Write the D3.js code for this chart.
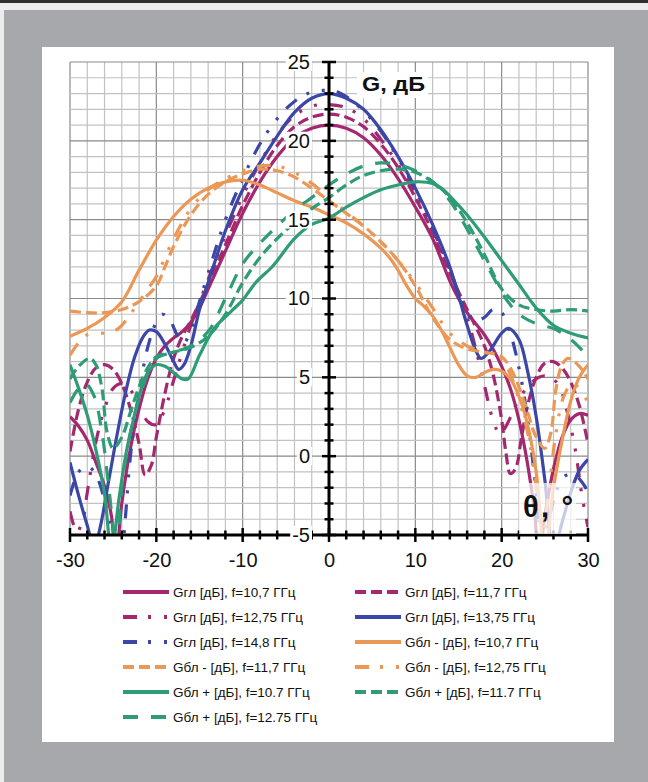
<!DOCTYPE html>
<html><head><meta charset="utf-8">
<script src="https://cdn.jsdelivr.net/npm/d3@7"></script>
<style>body{margin:0;background:#fff}svg{display:block;font-family:"Liberation Sans",Arial,sans-serif}</style>
</head><body><svg id="c" width="648" height="782"></svg>
<script>
// ---- data ----
const xTicks = [-30, -20, -10, 0, 10, 20, 30];
const yTicks = [-5, 0, 5, 10, 15, 20, 25];
const seriesNames = [
  "Gгл [дБ], f=10,7 ГГц", "Gгл [дБ], f=11,7 ГГц",
  "Gгл [дБ], f=12,75 ГГц", "Gгл [дБ], f=13,75 ГГц",
  "Gгл [дБ], f=14,8 ГГц", "Gбл - [дБ], f=10,7 ГГц",
  "Gбл - [дБ], f=11,7 ГГц", "Gбл - [дБ], f=12,75 ГГц",
  "Gбл + [дБ], f=10.7 ГГц", "Gбл + [дБ], f=11.7 ГГц",
  "Gбл + [дБ], f=12.75 ГГц"
];
const gl107 = [[-30,2.5],[-29,1.9],[-28,1.0],[-27,-0.4],[-26,-1.9],[-25.2,-3.8],[-24.7,-6.5],[-24,-3.0],[-23,0.5],[-22,3.0],[-21,4.9],[-20,6.2],[-19,7.0],[-18,7.5],[-17,7.9],[-16,8.5],[-15,9.4],[-14,10.6],[-12,13.0],[-10,15.4],[-8,17.4],[-6,19.0],[-4,20.2],[-2,20.8],[0,21.0],[2,20.8],[4,20.2],[6,19.1],[8,17.6],[10,15.8],[12,13.8],[14,11.1],[15,10.0],[16,9.1],[18,7.7],[19,6.8],[20,5.7],[21,4.3],[22,2.3],[23,-0.5],[23.8,-3.5],[24.3,-6.5],[25,-3.8],[26,-0.8],[27,1.2],[28,2.3],[29,2.7],[30,2.6]];
const gl117 = [[-30,0.3],[-29,3.0],[-28,4.7],[-27,5.6],[-26,5.8],[-25,5.5],[-24,4.6],[-23,3.0],[-22,0.8],[-21.3,-1.2],[-20.6,-0.6],[-20,1.2],[-19,4.0],[-18,6.2],[-17,7.6],[-16,8.6],[-14,10.9],[-12,13.4],[-10,15.9],[-8,18.0],[-6,19.7],[-4,20.9],[-2,21.5],[0,21.7],[2,21.5],[4,20.9],[6,19.8],[8,18.3],[10,16.4],[12,14.2],[14,11.6],[16,9.3],[17,8.2],[18,7.0],[19,5.2],[20,2.3],[20.5,0.2],[21,-1.1],[21.6,-0.8],[22.3,1.2],[23,3.2],[24,5.0],[25,5.9],[26,6.0],[27,5.6],[28,4.7],[29,3.2],[30,0.8]];
const gl1275 = [[-30,-3.5],[-29.2,-4.8],[-28.5,-4.0],[-28,-2.3],[-27,0.9],[-26,3.0],[-25,4.3],[-24,4.6],[-23,4.2],[-22,3.2],[-21,2.2],[-20,2.0],[-19,3.0],[-18,4.8],[-17,6.6],[-16,8.3],[-14,11.2],[-12,14.0],[-10,16.5],[-8,18.6],[-6,20.4],[-4,21.6],[-2,22.2],[0,22.3],[2,22.1],[4,21.4],[6,20.1],[8,18.5],[10,16.6],[12,14.4],[14,11.8],[16,8.8],[17,6.8],[18,4.5],[19,2.3],[19.8,1.4],[20.6,2.0],[22,3.6],[23.5,4.7],[25,5.1],[26.5,4.6],[27.5,3.0],[28.5,0.5],[29.3,-2.5],[30,-4.5]];
const gl1375 = [[-30,-0.4],[-29,-2.5],[-28,-4.4],[-27.2,-5.8],[-26.5,-4.5],[-25.5,-1.5],[-24.5,1.5],[-23.5,4.2],[-22.5,6.3],[-21.5,7.6],[-20.8,8.0],[-20,7.9],[-19,7.1],[-18,6.0],[-17.4,5.5],[-16.8,5.8],[-16,7.0],[-15,9.3],[-14,11.0],[-13,12.7],[-12,14.3],[-10,16.9],[-8,18.6],[-6,20.3],[-4,21.8],[-2,22.7],[0,23.0],[2,22.7],[4,22.0],[6,20.7],[8,19.0],[10,17.0],[12,14.7],[14,12.0],[15,10.2],[16,8.3],[17,6.7],[17.6,6.2],[18.5,6.6],[20,7.8],[20.8,8.1],[22,7.4],[23,5.4],[24,2.5],[25,-1.5],[26,-6.0],[27,-4.2],[28,-2.3],[29,-0.9],[30,-0.2]];
const gl148 = [[-30,-2.5],[-29,-1.0],[-28,-0.6],[-27,-1.2],[-26,-2.8],[-25,-5.5],[-24.3,-8],[-23.6,-4],[-23,0],[-22,4.0],[-21,6.9],[-20,8.5],[-19.3,9.0],[-18.5,8.7],[-17.5,7.6],[-16.8,7.2],[-16,8.0],[-15,9.8],[-14,11.6],[-12,15.0],[-10,17.6],[-8,19.8],[-6,21.4],[-4,22.5],[-2,23.1],[-0.5,23.2],[1,23.1],[2,22.8],[4,21.9],[6,20.6],[8,18.9],[10,16.9],[12,14.5],[14,11.8],[15,10.3],[16,9.0],[17,8.6],[18,8.8],[19,9.3],[20,9.1],[21,7.8],[22,5.6],[23,2.4],[24,-2.5],[24.6,-7],[25.3,-4.5],[26.5,-2.0],[27.5,-1.2],[28.5,-1.2],[29.5,-1.8],[30,-2.3]];
const gbm107 = [[-30,7.6],[-28,8.1],[-26,8.8],[-24,9.8],[-22,11.8],[-20,13.7],[-18,15.2],[-16,16.3],[-14,17.0],[-12,17.4],[-10,17.5],[-8,17.2],[-6,16.7],[-4,16.2],[-2,15.8],[0,15.3],[2,14.8],[4,14.1],[6,13.2],[7,12.6],[8,11.8],[9,10.8],[10,10.0],[11,9.5],[12,8.9],[13,8.0],[14,6.9],[15,5.8],[16,5.1],[17,5.0],[18,5.3],[19,5.5],[20,5.4],[21,4.9],[22,3.8],[23,2.0],[24,-1.0],[25,-6.0],[26,-2.0],[27,1.0],[28,3.5],[29,5.0],[30,5.8]];
const gbm117 = [[-30,9.2],[-28,9.1],[-26,9.1],[-24,9.3],[-22,9.8],[-20,10.8],[-19,12.0],[-18,13.3],[-16,15.3],[-14,16.6],[-12,17.4],[-10,17.9],[-8,18.2],[-6,18.1],[-4,17.7],[-2,17.0],[0,16.2],[2,15.4],[4,14.6],[6,13.6],[8,12.4],[10,10.8],[12,8.8],[14,7.4],[16,6.8],[18,6.6],[20,6.3],[21,5.6],[22,4.4],[23,2.8],[24,1.2],[25,0.5],[25.7,1.5],[26.3,4.3],[27,5.8],[27.7,6.2],[29,5.7],[30,4.9]];
const gbm1275 = [[-30,6.4],[-29,7.2],[-28,7.7],[-27,7.8],[-26,7.8],[-25,7.9],[-24,8.3],[-23,9.0],[-22,9.8],[-21,10.6],[-20,11.4],[-19,12.6],[-18,13.8],[-16,15.7],[-14,16.9],[-12,17.6],[-10,18.1],[-8,18.4],[-6,18.4],[-4,18.0],[-2,17.3],[0,16.4],[2,15.5],[4,14.6],[6,13.6],[8,12.4],[10,11.0],[12,9.4],[14,7.8],[16,7.0],[18,6.6],[20,6.2],[21,5.2],[22,3.6],[23,1.5],[24,-2.0],[24.6,-6],[25.5,-2],[26.3,1.5],[27.2,3.8],[28.2,4.6],[29,4.3],[30,3.4]];
const gbp107 = [[-30,5.8],[-29,4.3],[-28,2.6],[-27,0.4],[-26,-2.4],[-25.2,-6.0],[-24.3,-2.6],[-23.5,0.2],[-22.7,2.2],[-22,3.8],[-21,5.3],[-20,5.8],[-19,5.7],[-18,5.3],[-17,4.9],[-16.3,4.9],[-15,6.4],[-13.3,8.1],[-11.3,9.2],[-10,9.9],[-8.5,11.0],[-6.6,12.0],[-6,12.4],[-4,13.8],[-2,14.7],[0,15.1],[2,15.8],[4,16.4],[6,16.9],[8,17.2],[10,17.4],[12,17.3],[13,17.0],[14,16.5],[16,15.3],[18,13.9],[20,12.4],[22,10.9],[24,9.4],[26,8.3],[28,7.8],[30,7.5]];
const gbp117 = [[-30,4.9],[-29,5.7],[-27.7,6.2],[-27,5.8],[-26.3,4.3],[-25.7,1.5],[-25,0.5],[-24,1.2],[-23,2.8],[-22,4.4],[-21,5.6],[-20,6.3],[-18,6.6],[-16,6.9],[-14,7.6],[-12,9.0],[-10,11.0],[-8,12.6],[-6,13.8],[-4,14.8],[-2,15.7],[0,16.4],[2,17.2],[4,17.8],[6,18.1],[8,18.2],[10,18.0],[12,17.4],[14,16.4],[16,14.8],[18,12.8],[19,11.6],[20,10.6],[22,9.6],[24,9.3],[26,9.2],[28,9.3],[30,9.2]];
const gbp1275 = [[-30,3.4],[-29,4.3],[-28.2,4.6],[-27.2,3.8],[-26.3,1.5],[-25.5,-2],[-24.6,-6],[-24,-2.0],[-23,1.5],[-22,3.6],[-21,5.2],[-20,6.2],[-18,6.6],[-16,7.0],[-14,7.9],[-12,10.0],[-10,12.2],[-8,13.5],[-6,14.6],[-4,15.6],[-2,16.4],[0,17.2],[2,17.9],[4,18.4],[6,18.6],[8,18.5],[10,18.1],[12,17.4],[14,16.2],[16,14.4],[18,12.4],[19,11.4],[20,10.4],[21,9.6],[22,9.0],[24,8.4],[26,8.1],[27,7.8],[28,7.4],[29,6.9],[30,6.3]];

// ---- styles ----
const PURPLE = "#a3286f", BLUE = "#3b47a6", ORANGE = "#eb9856", GREEN = "#2f9c78";
const DASH = "11,5", DASHDOT = "14,11,3,13,3,12", LONG = "15,13";
const series = [
  {d: gl107, c: PURPLE, dash: null}, {d: gl117, c: PURPLE, dash: DASH},
  {d: gl1275, c: PURPLE, dash: DASHDOT}, {d: gl1375, c: BLUE, dash: null},
  {d: gl148, c: BLUE, dash: DASHDOT}, {d: gbm107, c: ORANGE, dash: null},
  {d: gbm117, c: ORANGE, dash: DASH}, {d: gbm1275, c: ORANGE, dash: DASHDOT},
  {d: gbp107, c: GREEN, dash: null}, {d: gbp117, c: GREEN, dash: DASH},
  {d: gbp1275, c: GREEN, dash: LONG}
];

const svg = d3.select("#c");
// frame
svg.append("rect").attr("width", 648).attr("height", 782).attr("fill", "#ececec");
svg.append("rect").attr("width", 648).attr("height", 3).attr("fill", "#2f2f2f");
svg.append("rect").attr("x", 4).attr("y", 10).attr("width", 644).attr("height", 772).attr("fill", "#a7a8ac");
svg.append("rect").attr("x", 42).attr("y", 47).attr("width", 572).attr("height", 695).attr("fill", "#ffffff");

const x = d3.scaleLinear().domain([-30, 30]).range([70, 588]);
const y = d3.scaleLinear().domain([-5, 25]).range([535, 62]);

// grid
const grid = svg.append("g");
const minorX = d3.range(-30, 31, 2), minorY = d3.range(-5, 26, 1);
grid.selectAll(".vx").data(minorX).enter().append("line")
  .attr("x1", d => x(d)).attr("x2", d => x(d)).attr("y1", y(25)).attr("y2", y(-5))
  .attr("stroke", d => d % 10 === 0 ? "#8a8a8a" : "#c2c2c2").attr("stroke-width", 1.2);
grid.selectAll(".hy").data(minorY).enter().append("line")
  .attr("y1", d => y(d)).attr("y2", d => y(d)).attr("x1", x(-30)).attr("x2", x(30))
  .attr("stroke", d => d % 5 === 0 ? "#8a8a8a" : "#c2c2c2").attr("stroke-width", 1.2);

// curves
svg.append("clipPath").attr("id", "clip").append("rect")
  .attr("x", x(-30)).attr("y", y(25)).attr("width", x(30) - x(-30)).attr("height", y(-5) - y(25));
const line = d3.line().x(d => x(d[0])).y(d => y(d[1])).curve(d3.curveCatmullRom.alpha(0.5));
const plot = svg.append("g").attr("clip-path", "url(#clip)");
series.forEach(s => {
  plot.append("path").attr("d", line(s.d)).attr("fill", "none")
    .attr("stroke", s.c).attr("stroke-width", 3.2)
    .attr("stroke-dasharray", s.dash).attr("stroke-linejoin", "round");
});

// axes lines and ticks
const ax = svg.append("g");
ax.append("line").attr("x1", x(-30)).attr("x2", x(30)).attr("y1", y(-5)).attr("y2", y(-5)).attr("stroke", "#000").attr("stroke-width", 3);
ax.append("line").attr("x1", x(0)).attr("x2", x(0)).attr("y1", y(25)).attr("y2", y(-5)).attr("stroke", "#000").attr("stroke-width", 3);
ax.selectAll(".tx").data(minorX).enter().append("line")
  .attr("x1", d => x(d)).attr("x2", d => x(d))
  .attr("y1", d => y(-5) - (d % 10 === 0 ? 7 : 4.5)).attr("y2", d => y(-5) + (d % 10 === 0 ? 7 : 4.5))
  .attr("stroke", "#000").attr("stroke-width", 2.5);
ax.selectAll(".ty").data(minorY).enter().append("line")
  .attr("y1", d => y(d)).attr("y2", d => y(d))
  .attr("x1", d => x(0) - (d % 5 === 0 ? 7 : 4.5)).attr("x2", d => x(0) + (d % 5 === 0 ? 7 : 4.5))
  .attr("stroke", "#000").attr("stroke-width", 2.5);

const fmt = d => String(d);
// x tick labels via axis
const gx = svg.append("g").attr("transform", `translate(0,${y(-5)})`)
  .call(d3.axisBottom(x).tickValues(xTicks).tickSize(0).tickPadding(18).tickFormat(fmt));
gx.select(".domain").remove();
gx.selectAll("text").attr("font-size", 20).attr("fill", "#111").attr("font-family", "Liberation Sans, Arial, sans-serif");

// y tick labels via axis
const gy = svg.append("g").attr("transform", `translate(${x(0)},0)`)
  .call(d3.axisLeft(y).tickValues(yTicks).tickSize(0).tickPadding(19).tickFormat(fmt));
gy.select(".domain").remove();
gy.selectAll("text").attr("font-size", 20).attr("fill", "#111").attr("font-family", "Liberation Sans, Arial, sans-serif");
gy.selectAll(".tick").each(function () {
  const t = d3.select(this).select("text");
  const b = t.node().getBBox();
  d3.select(this).insert("rect", "text").attr("x", b.x - 2).attr("y", b.y + 2)
    .attr("width", b.width + 4).attr("height", b.height - 4).attr("fill", "#fff");
});

// axis titles
svg.append("rect").attr("x", 357).attr("y", 72).attr("width", 71).attr("height", 26).attr("fill", "#fff");
svg.append("text").attr("x", 362).attr("y", 91).attr("font-size", 21).attr("font-weight", "bold").attr("fill", "#111")
  .attr("textLength", 63).attr("lengthAdjust", "spacingAndGlyphs").text("G, дБ");
svg.append("rect").attr("x", 519).attr("y", 483).attr("width", 57).attr("height", 51).attr("fill", "#fff").attr("opacity", 0.72);
svg.append("text").attr("x", 523).attr("y", 517).attr("font-size", 29).attr("font-weight", "bold").attr("fill", "#111")
  .attr("textLength", 50).attr("lengthAdjust", "spacing").text("θ, °");

// legend
const leg = svg.append("g");
series.forEach((s, i) => {
  const col = i % 2, row = Math.floor(i / 2);
  const yy = 592 + row * 25;
  const x0 = col === 0 ? 123 : 355;
  leg.append("line").attr("x1", x0).attr("x2", x0 + 46).attr("y1", yy).attr("y2", yy)
    .attr("stroke", s.c).attr("stroke-width", 4).attr("stroke-dasharray", s.dash);
  leg.append("text").attr("x", x0 + 50).attr("y", yy + 5).attr("font-size", 13.5).attr("fill", "#111")
    .text(seriesNames[i]);
});
</script></body></html>
